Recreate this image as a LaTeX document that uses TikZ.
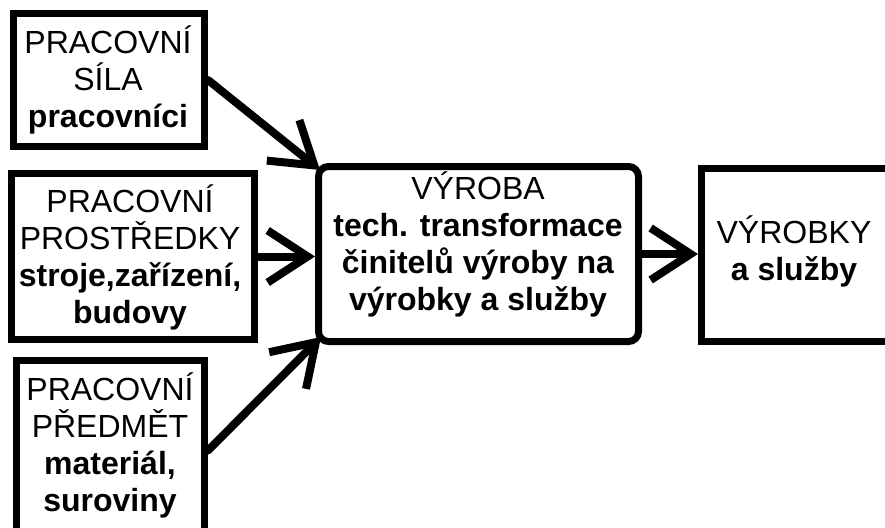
\documentclass[tikz,border=0pt]{standalone}
\usepackage{fontspec}
\setmainfont{Liberation Sans}
\usetikzlibrary{arrows.meta}
\begin{document}
\begin{tikzpicture}[x=1pt,y=-1pt,
  box/.style={draw=black,line width=7pt,rectangle,inner sep=0pt},
  txt/.style={align=center,font=\fontsize{32}{37}\selectfont,inner sep=0pt},
  conn/.style={line width=8pt,line cap=round,-{Straight Barb[length=40pt,width=52pt]}}]
\clip (0,0) rectangle (885,527);
\fill[white] (0,0) rectangle (885,527);
% boxes
\node[box,minimum width=191pt,minimum height=133pt] (b1) at (109,80) {};
\node[box,minimum width=243pt,minimum height=166pt] (b2) at (133,256.5) {};
\node[box,minimum width=188pt,minimum height=180pt] (b3) at (110.5,450.5) {};
\node[box,rounded corners=10pt,minimum width=320pt,minimum height=175pt] (b4) at (478.5,254) {};
\node[box,minimum width=190pt,minimum height=173pt] (b5) at (796.5,255) {};
% texts
\node[txt] (t1) at (108,80) {PRACOVNÍ\\SÍLA\\\textbf{pracovníci}};
\node[txt] (t2) at (130,257) {PRACOVNÍ\\PROSTŘEDKY\\\textbf{stroje,zařízení,}\\\textbf{budovy}};
\node[txt] (t3) at (110,445) {PRACOVNÍ\\PŘEDMĚT\\\textbf{materiál,}\\\textbf{suroviny}};
\node[txt] (t4) at (478,244) {VÝROBA\\\textbf{tech. transformace}\\\textbf{činitelů výroby na}\\\textbf{výrobky a služby}};
\node[txt] (t5) at (794,251) {VÝROBKY\\\textbf{a služby}};
% connectors
\draw[conn] (b1.east) -- ([xshift=5pt,yshift=-7pt]b4.north west);
\draw[conn] (b2.east) -- (b4.west |- b2.east);
\draw[conn] (b3.east) -- ([xshift=6pt,yshift=8pt]b4.south west);
\draw[conn] (b4.east) -- (b5.west |- b4.east);
\end{tikzpicture}
\end{document}
